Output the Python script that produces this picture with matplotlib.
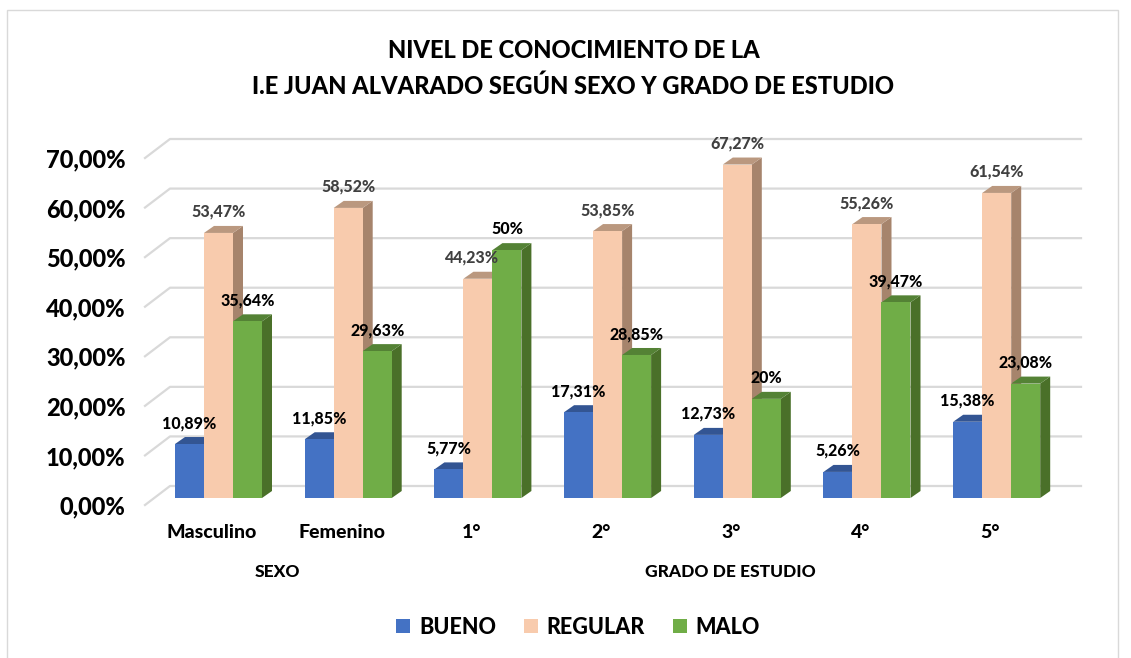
import matplotlib
matplotlib.use('Agg')
import matplotlib.pyplot as plt
from matplotlib.patches import Patch, Polygon, Rectangle

W, H = 1131, 658

# Données
categories = ['Masculino', 'Femenino', '1°', '2°', '3°', '4°', '5°']
bueno = [10.89, 11.85, 5.77, 17.31, 12.73, 5.26, 15.38]
regular = [53.47, 58.52, 44.23, 53.85, 67.27, 55.26, 61.54]
malo = [35.64, 29.63, 50, 28.85, 20, 39.47, 23.08]
etiquettes_b = ['10,89%', '11,85%', '5,77%', '17,31%', '12,73%', '5,26%', '15,38%']
etiquettes_r = ['53,47%', '58,52%', '44,23%', '53,85%', '67,27%', '55,26%', '61,54%']
etiquettes_m = ['35,64%', '29,63%', '50%', '28,85%', '20%', '39,47%', '23,08%']
yticks = [0, 10, 20, 30, 40, 50, 60, 70]
ylabels = ['0,00%', '10,00%', '20,00%', '30,00%', '40,00%', '50,00%', '60,00%', '70,00%']

plt.rcParams['font.family'] = ['Lato', 'DejaVu Sans']
plt.rcParams['font.weight'] = 'black'

fig = plt.figure(figsize=(W / 100, H / 100), dpi=100)
fig.add_artist(Rectangle((7 / W, -0.02), (1118 - 7) / W, 1.02 - 10 / H, transform=fig.transFigure,
                         fill=False, ec='#D9D9D9', lw=1))

# axe : 1 unité x = une catégorie, y = pourcentage
px_x = 129.7
px_y = 347 / 70
x0, x1 = (145 - 212) / px_x, (1081 - 212) / px_x
left = 145 / W
ax = fig.add_axes([left, (H - 505) / H, (1081 - 145) / W, 347 / H])
ax.set_xlim(x0, x1)
ax.set_ylim(0, 70)
for s in ax.spines.values():
    s.set_visible(False)
ax.patch.set_visible(False)

# grille : mur du fond + partie oblique
wall_dx, wall_dy = 25 / px_x, 19 / px_y
for v in yticks:
    ax.plot([x0, x0 + wall_dx, x1], [v, v + wall_dy, v + wall_dy], color='#D9D9D9', lw=1.6,
            clip_on=False, zorder=1)

ax.set_yticks(yticks, ylabels, fontsize=17, color='black')
ax.set_xticks(range(len(categories)), categories, fontsize=14, color='black')
ax.tick_params(axis='y', length=0, pad=14)
ax.tick_params(axis='x', length=0, pad=14)

# barres en fausse 3D
bar_w = 29 / px_x
dx, dy = 10 / px_x, 7 / px_y
base = 7 / px_y
start = (175 - 212) / px_x
series = [
    (bueno, etiquettes_b, '#4472C4', '#2F5597', '#335593', 'black'),
    (regular, etiquettes_r, '#F8CBAD', '#A6846C', '#BA987F', '#404040'),
    (malo, etiquettes_m, '#70AD47', '#4A7029', '#548235', 'black'),
]
for i in range(len(categories)):
    for j, (vals, labs, front, side, top, tc) in enumerate(series):
        a = i + start + j * bar_w
        b = a + bar_w
        h = base + vals[i]
        z = 3 + j
        ax.add_patch(Polygon([(b, base), (b + dx, base + dy), (b + dx, h + dy), (b, h)],
                             fc=side, ec='none', zorder=z, clip_on=False))
        ax.add_patch(Polygon([(a, h), (a + dx, h + dy), (b + dx, h + dy), (b, h)],
                             fc=top, ec='none', zorder=z, clip_on=False))
        ax.add_patch(Rectangle((a, base), bar_w, vals[i], fc=front, ec='none', zorder=z, clip_on=False))
        shift = -7 if (i, j) == (2, 1) else 0
        ax.annotate(labs[i], ((a + b) / 2, h), xytext=(shift * 0.72, 21 * 0.72), textcoords='offset points',
                    ha='center', va='center', fontsize=11.5, color=tc, zorder=10)

# textes
fig.text(574 / W, 1 - 50 / H, 'NIVEL DE CONOCIMIENTO DE LA', ha='center', va='center', fontsize=17)
fig.text(573 / W, 1 - 86 / H, 'I.E JUAN ALVARADO SEGÚN SEXO Y GRADO DE ESTUDIO', ha='center', va='center',
         fontsize=17)
fig.text(277 / W, 1 - 572 / H, 'SEXO', ha='center', va='center', fontsize=12.5)
fig.text(730 / W, 1 - 572 / H, 'GRADO DE ESTUDIO', ha='center', va='center', fontsize=12.5)

handles = [Patch(fc=s[2], ec='none') for s in series]
fig.legend(handles, ['BUENO', 'REGULAR', 'MALO'], ncols=3, loc='center', bbox_to_anchor=(578 / W, 1 - 627 / H),
           frameon=False, fontsize=15.5, handlelength=0.65, handleheight=0.65, handletextpad=0.4, columnspacing=1.3)

fig.savefig('out.png', dpi=100)
